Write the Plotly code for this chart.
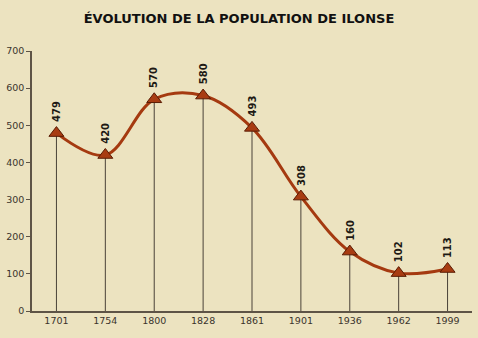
import plotly.graph_objects as go

years = ["1701", "1754", "1800", "1828", "1861", "1901", "1936", "1962", "1999"]
population = [479, 420, 570, 580, 493, 308, 160, 102, 113]
y_ticks = [0, 100, 200, 300, 400, 500, 600, 700]

bg = "#ece3c0"
axis_col = "#5e5446"

# drop lines built from the data
dx, dy = [], []
for yr, v in zip(years, population):
    dx += [yr, yr, None]
    dy += [0, v, None]

fig = go.Figure()
fig.add_trace(go.Scatter(x=dx, y=dy, mode="lines",
                         line=dict(color="#4a4238", width=1),
                         hoverinfo="skip", showlegend=False))
fig.add_trace(go.Scatter(x=years, y=population, mode="lines",
                         line=dict(color="#a53a10", width=3, shape="spline", smoothing=1),
                         showlegend=False))
fig.add_trace(go.Scatter(x=years, y=population, mode="markers",
                         marker=dict(symbol="triangle-up", size=13, color="#a83c12",
                                     line=dict(color="#5a1c04", width=1)),
                         showlegend=False))

for i, v in enumerate(population):
    fig.add_annotation(x=i, y=v, xref="x", yref="y", text=f"<b>{v}</b>", textangle=-90,
                       showarrow=False, yanchor="bottom", yshift=9,
                       font=dict(family="DejaVu Sans", size=10, color="#1e1a14"))

fig.update_layout(
    width=478, height=338,
    margin=dict(l=32, r=6, t=51, b=27),
    paper_bgcolor=bg, plot_bgcolor=bg,
    title=dict(text="<b>ÉVOLUTION DE LA POPULATION DE ILONSE</b>", x=0.5, xanchor="center",
               y=0.945, yanchor="middle",
               font=dict(family="DejaVu Sans", size=13, color="#111111")),
    font=dict(family="DejaVu Sans", size=9, color="#3a342c"),
)
fig.update_xaxes(type="category", range=[-0.5, 8.5], showgrid=False, zeroline=False,
                 showline=True, linecolor=axis_col, linewidth=1.5, ticks="",
                 tickfont=dict(size=9.5, color="#3a342c"))
fig.update_yaxes(range=[0, 700], tickvals=y_ticks, showgrid=False, zeroline=False,
                 showline=True, linecolor=axis_col, linewidth=1.5, ticks="outside",
                 ticklen=4, tickcolor=axis_col, tickfont=dict(size=9.5, color="#3a342c"))

fig.write_html("out.html")
